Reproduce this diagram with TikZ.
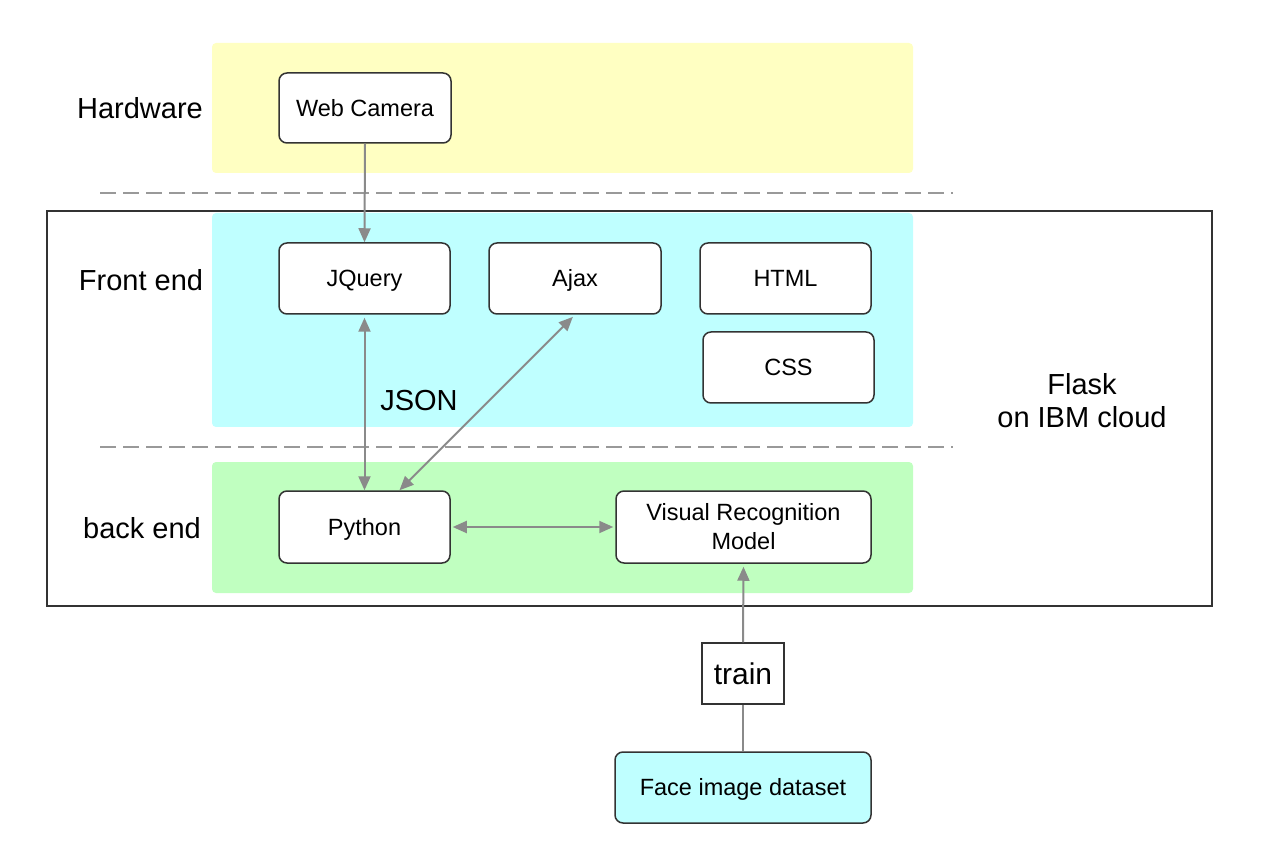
\documentclass[tikz,border=0pt]{standalone}
\usepackage{fontspec}
\setmainfont{Liberation Sans}
\usetikzlibrary{arrows.meta}
\definecolor{bandyellow}{HTML}{FFFFC2}
\definecolor{bandcyan}{HTML}{BFFFFF}
\definecolor{bandgreen}{HTML}{C0FFC0}
\definecolor{boxline}{HTML}{333333}
\definecolor{arrowgray}{HTML}{8A8A8A}
\definecolor{dashgray}{HTML}{999999}
\tikzset{
  band/.style={draw=none, rounded corners=2pt},
  comp/.style={draw=boxline, line width=0.75pt, rounded corners=4pt, fill=white,
    inner sep=0pt, minimum width=85.5pt, minimum height=35.5pt, align=center,
    font=\fontsize{11.75}{14.5}\selectfont},
  compone/.style={comp, text height=8.4pt, text depth=0pt},
  layerlabel/.style={font=\fontsize{14.5}{17}\selectfont, inner sep=0pt},
  conn/.style={draw=arrowgray, line width=1pt},
  tip/.style={-{Triangle[length=7pt,width=6pt]}},
  tips/.style={{Triangle[length=7pt,width=6pt]}-{Triangle[length=7pt,width=6pt]}},
  sep/.style={draw=dashgray, line width=1pt, dash pattern=on 8pt off 3.5pt}
}
\begin{document}
\begin{tikzpicture}[x=0.5pt,y=-0.5pt]
\useasboundingbox (0,0) rectangle (1270,845);
% outer Flask box
\draw[draw=boxline, line width=1pt] (47,211) rectangle (1212,606);
% bands
\fill[band, fill=bandyellow] (212,43) rectangle (913,173);
\fill[band, fill=bandcyan] (212,213) rectangle (913,427);
\fill[band, fill=bandgreen] (212,462) rectangle (913,593);
% dashed separators
\coordinate (s1a) at (100,193);
\coordinate (s1b) at (953,193);
\coordinate (s2a) at (100,447);
\coordinate (s2b) at (953,447);
\draw[sep] (s1a) -- (s1b);
\draw[sep] (s2a) -- (s2b);
% labels
\node[layerlabel] (hw) at (140,108) {Hardware};
\node[layerlabel] (fe) at (141,280) {Front end};
\node[layerlabel] (be) at (142,528) {back end};
\node[font=\fontsize{14.5}{16.5}\selectfont, align=center, inner sep=0pt] (flask) at (1082,401) {Flask\\on IBM cloud};
\node[font=\fontsize{14.5}{17}\selectfont, inner sep=0pt] (json) at (419,401) {JSON};
% components
\node[compone, minimum width=86pt, minimum height=35pt] (webcam) at (365,108) {Web Camera};
\node[compone] (jquery) at (364.5,278.5) {JQuery};
\node[compone, minimum width=86pt] (ajax) at (575,278.5) {Ajax};
\node[compone] (html) at (785.5,278.5) {HTML};
\node[compone] (css) at (788.5,367.5) {CSS};
\node[compone, minimum height=36pt] (python) at (364.5,527) {Python};
\node[comp, minimum width=127.5pt, minimum height=36pt] (vrm) at (743.5,527) {Visual Recognition\\Model};
\node[draw=boxline, line width=0.75pt, fill=white, inner sep=0pt, minimum width=41pt, minimum height=30.5pt, text height=10.7pt, text depth=0pt, font=\fontsize{15}{17}\selectfont] (train) at (743,673.5) {train};
\node[compone, fill=bandcyan, minimum width=128pt] (face) at (743,787.5) {Face image dataset};
% connectors
\draw[conn, tip] (webcam.south) -- (jquery.north);
\draw[conn, tips, shorten <=1.5pt] (jquery.south) -- (python.north);
\draw[conn, tips, shorten <=1.5pt] (ajax.south) -- ([xshift=17.5pt]python.north);
\draw[conn, tips, shorten <=1pt, shorten >=1pt] (python.east) -- (vrm.west);
\draw[conn] (face.north) -- (train.south);
\draw[conn, tip, shorten >=1.5pt] (train.north) -- (vrm.south);
\end{tikzpicture}
\end{document}
